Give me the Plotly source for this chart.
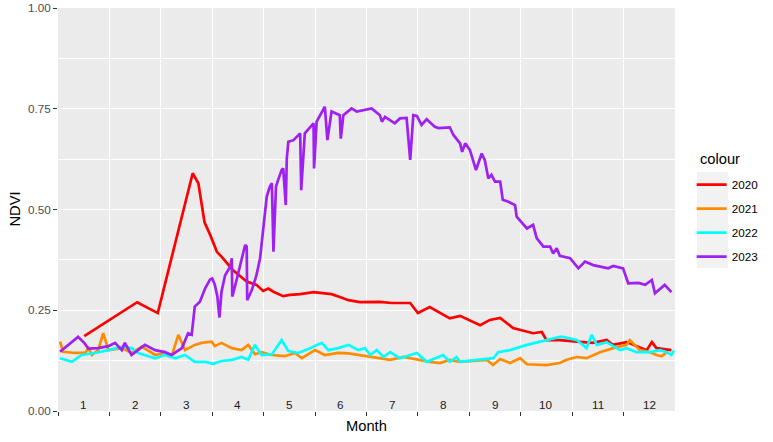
import plotly.graph_objects as go

# ---- data (x = decimal month, y = NDVI) ----
months = list(range(1, 13))
month_labels = [str(m) for m in months]
y_ticks = [0.0, 0.25, 0.5, 0.75, 1.0]
y_tick_labels = ["0.00", "0.25", "0.50", "0.75", "1.00"]

x2020 = [1.51, 2.54, 2.94, 3.62, 3.73, 3.79, 3.85, 3.96, 4.09, 4.18, 4.40, 4.67, 4.86, 4.99,
         5.09, 5.19, 5.38, 5.51, 5.71, 5.97, 6.13, 6.32, 6.48, 6.65, 6.87, 7.26, 7.49, 7.85, 8.00,
         8.23, 8.62, 8.82, 9.21, 9.40, 9.60, 9.85, 10.24, 10.41, 10.50, 10.76, 11.09, 11.40, 11.67,
         11.79, 12.06, 12.45, 12.55, 12.64, 12.93]
y2020 = [0.186, 0.27, 0.243, 0.59, 0.565, 0.516, 0.468, 0.437, 0.395, 0.383, 0.35, 0.321, 0.313,
         0.298, 0.304, 0.296, 0.285, 0.288, 0.29, 0.295, 0.293, 0.29, 0.283, 0.275, 0.27, 0.271,
         0.268, 0.268, 0.243, 0.258, 0.23, 0.236, 0.213, 0.226, 0.231, 0.206, 0.193, 0.196, 0.176,
         0.176, 0.172, 0.169, 0.176, 0.164, 0.171, 0.151, 0.171, 0.156, 0.151]

x2021 = [1.04, 1.10, 1.33, 1.53, 1.59, 1.66, 1.78, 1.88, 1.98, 2.24, 2.43, 2.63, 2.89, 3.08, 3.21,
         3.34, 3.47, 3.66, 3.79, 3.99, 4.05, 4.18, 4.38, 4.57, 4.70, 4.83, 4.96, 5.16, 5.41, 5.61,
         5.74, 6.00, 6.19, 6.45, 6.65, 6.97, 7.20, 7.46, 7.72, 7.98, 8.23, 8.43, 8.62, 8.82, 9.07,
         9.34, 9.46, 9.60, 9.79, 9.99, 10.12, 10.50, 10.76, 10.89, 11.09, 11.28, 11.54, 11.80,
         12.06, 12.12, 12.32, 12.51, 12.64, 12.74, 12.84]
y2021 = [0.172, 0.147, 0.144, 0.144, 0.156, 0.139, 0.151, 0.193, 0.151, 0.156, 0.144, 0.16, 0.139,
         0.144, 0.136, 0.189, 0.151, 0.164, 0.169, 0.172, 0.161, 0.169, 0.156, 0.151, 0.164, 0.141,
         0.146, 0.139, 0.136, 0.144, 0.131, 0.151, 0.139, 0.144, 0.143, 0.136, 0.131, 0.127, 0.134,
         0.127, 0.122, 0.119, 0.127, 0.122, 0.124, 0.127, 0.114, 0.129, 0.119, 0.131, 0.116, 0.114,
         0.119, 0.127, 0.134, 0.131, 0.146, 0.156, 0.164, 0.176, 0.151, 0.146, 0.139, 0.136, 0.146]

x2022 = [1.04, 1.27, 1.46, 1.72, 1.98, 2.24, 2.43, 2.56, 2.76, 2.89, 3.08, 3.28, 3.47, 3.66, 3.86,
         4.02, 4.18, 4.38, 4.57, 4.70, 4.83, 4.96, 5.16, 5.35, 5.48, 5.67, 5.87, 6.13, 6.26, 6.45,
         6.65, 6.84, 6.97, 7.07, 7.20, 7.33, 7.46, 7.65, 7.98, 8.17, 8.49, 8.62, 8.75, 8.82, 9.14,
         9.47, 9.56, 9.79, 10.12, 10.50, 10.76, 10.82, 11.09, 11.28, 11.38, 11.48, 11.67, 11.93,
         12.06, 12.25, 12.51, 12.71, 12.84, 12.93, 12.98]
y2022 = [0.131, 0.122, 0.139, 0.144, 0.151, 0.159, 0.156, 0.144, 0.136, 0.131, 0.139, 0.131, 0.139,
         0.122, 0.122, 0.117, 0.124, 0.127, 0.134, 0.127, 0.164, 0.139, 0.141, 0.176, 0.149, 0.144,
         0.154, 0.169, 0.151, 0.156, 0.164, 0.151, 0.156, 0.139, 0.151, 0.134, 0.146, 0.131, 0.144,
         0.122, 0.139, 0.122, 0.134, 0.122, 0.127, 0.131, 0.146, 0.151, 0.164, 0.176, 0.184, 0.184,
         0.176, 0.156, 0.189, 0.164, 0.171, 0.151, 0.156, 0.146, 0.146, 0.151, 0.146, 0.139, 0.15]

x2023 = [1.04, 1.39, 1.51, 1.59, 1.78, 1.98, 2.11, 2.24, 2.30, 2.43, 2.69, 2.89, 3.08, 3.21, 3.41,
         3.53, 3.60, 3.66, 3.76, 3.86, 3.96, 4.00, 4.05, 4.10, 4.14, 4.18, 4.25, 4.35, 4.38, 4.39,
         4.44, 4.54, 4.64, 4.67, 4.68, 4.77, 4.86, 4.93, 4.99,
         5.06, 5.12, 5.16, 5.19, 5.24, 5.28, 5.35, 5.38, 5.43, 5.45, 5.48, 5.58, 5.71, 5.73, 5.80,
         5.97, 5.98, 6.03, 6.19, 6.24, 6.32, 6.48, 6.50, 6.55, 6.71, 6.81, 7.10, 7.26, 7.30, 7.36,
         7.55, 7.65, 7.78, 7.85, 7.91, 7.98, 8.07, 8.17, 8.33, 8.40, 8.62, 8.69, 8.82, 8.86, 8.92,
         9.01, 9.13, 9.24, 9.30, 9.37, 9.43, 9.50, 9.60, 9.65, 9.76, 9.89, 9.92, 10.12, 10.24,
         10.31, 10.44, 10.57, 10.63, 10.70, 10.76, 10.96, 11.12, 11.25, 11.41, 11.70, 11.80, 11.99,
         12.09, 12.29, 12.42, 12.55, 12.61, 12.80, 12.93]
y2023 = [0.147, 0.184, 0.169, 0.155, 0.156, 0.161, 0.169, 0.151, 0.169, 0.139, 0.164, 0.151, 0.146,
         0.139, 0.156, 0.193, 0.189, 0.259, 0.271, 0.304, 0.327, 0.329, 0.313, 0.284, 0.232, 0.296,
         0.337, 0.358, 0.379, 0.284, 0.308, 0.362, 0.412, 0.408, 0.275, 0.30, 0.337, 0.379, 0.457,
         0.532, 0.557, 0.565, 0.395, 0.557, 0.573, 0.598, 0.602, 0.511,
         0.627, 0.668, 0.672, 0.689, 0.548, 0.689, 0.714, 0.602, 0.718, 0.755, 0.672, 0.743, 0.734,
         0.676, 0.734, 0.751, 0.743, 0.751, 0.734, 0.718, 0.73, 0.714, 0.726, 0.727, 0.623, 0.734,
         0.732, 0.71, 0.724, 0.705, 0.702, 0.704, 0.685, 0.664, 0.643, 0.664, 0.648, 0.598, 0.639,
         0.623, 0.577, 0.586, 0.569, 0.569, 0.524, 0.519, 0.511, 0.482, 0.453, 0.462, 0.429, 0.408,
         0.408, 0.391, 0.404, 0.385, 0.379, 0.354, 0.371, 0.362, 0.354, 0.36, 0.354, 0.317, 0.318,
         0.313, 0.325, 0.292, 0.313, 0.295]

series = [
    ("2020", x2020, y2020, "#FF0000"),
    ("2021", x2021, y2021, "#FF8C00"),
    ("2022", x2022, y2022, "#00FFFF"),
    ("2023", x2023, y2023, "#A020F0"),
]

FONT = "Liberation Sans, Arial, sans-serif"

fig = go.Figure()
for name, xs, ys, col in series:
    fig.add_trace(go.Scatter(x=xs, y=ys, mode="lines", name=name, legendgroup=name,
                             line=dict(color=col, width=2.7)))

annotations = []
for m, lab in zip(months, month_labels):
    annotations.append(dict(x=m + 0.5, y=0.016, xref="x", yref="y", text=lab, showarrow=False,
                            font=dict(family=FONT, size=11.7, color="#1A1A1A"),
                            xanchor="center", yanchor="middle"))
annotations.append(dict(x=0.5, y=-0.037, xref="paper", yref="paper", text="Month", showarrow=False,
                        font=dict(family=FONT, size=14.7, color="#000000"),
                        xanchor="center", yanchor="middle"))
annotations.append(dict(x=-0.0713, y=0.5, xref="paper", yref="paper", text="NDVI", showarrow=False,
                        textangle=-90, font=dict(family=FONT, size=14.7, color="#000000"),
                        xanchor="center", yanchor="middle"))
# legend title
annotations.append(dict(x=1.0373, y=0.6253, xref="paper", yref="paper", text="colour",
                        showarrow=False, font=dict(family=FONT, size=14.7, color="#000000"),
                        xanchor="left", yanchor="middle"))

fig.update_layout(
    width=773, height=442,
    margin=dict(l=58, r=98, t=8, b=31, autoexpand=False),
    paper_bgcolor="white", plot_bgcolor="#EBEBEB",
    font=dict(family=FONT, size=11.7, color="#000000"),
    annotations=annotations,
    shapes=[dict(type="rect", xref="paper", yref="paper", x0=1.0357, x1=1.0859,
                 y0=0.3548, y1=0.593, fillcolor="#F2F2F2", line=dict(width=0), layer="below")],
    legend=dict(
        font=dict(family=FONT, size=11.7, color="#000000"),
        x=1.027, xanchor="left", y=0.5975, yanchor="top",
        tracegroupgap=5, bgcolor="rgba(0,0,0,0)",
    ),
    xaxis=dict(
        range=[1, 13], tickmode="array", tickvals=months, ticktext=["" for _ in months],
        ticks="outside", ticklen=4, tickwidth=1, tickcolor="#333333",
        showgrid=True, gridcolor="white", gridwidth=1.1, zeroline=False, showline=False,
        fixedrange=True, automargin=False,
    ),
    yaxis=dict(
        range=[0, 1], tickmode="array", tickvals=y_ticks, ticktext=y_tick_labels,
        ticks="outside", ticklen=4, tickwidth=1, tickcolor="#333333",
        tickfont=dict(family=FONT, size=11.7, color="#4D4D4D"),
        showgrid=True, gridcolor="white", gridwidth=1.1, zeroline=False, showline=False,
        minor=dict(tickvals=[0.125, 0.375, 0.625, 0.875], showgrid=True, gridcolor="white",
                   gridwidth=0.6, ticks=""),
        fixedrange=True, automargin=False,
    ),
    showlegend=True,
)

fig.write_html("out.html", config={"displayModeBar": False},
               post_script="document.body.style.margin='0';")
